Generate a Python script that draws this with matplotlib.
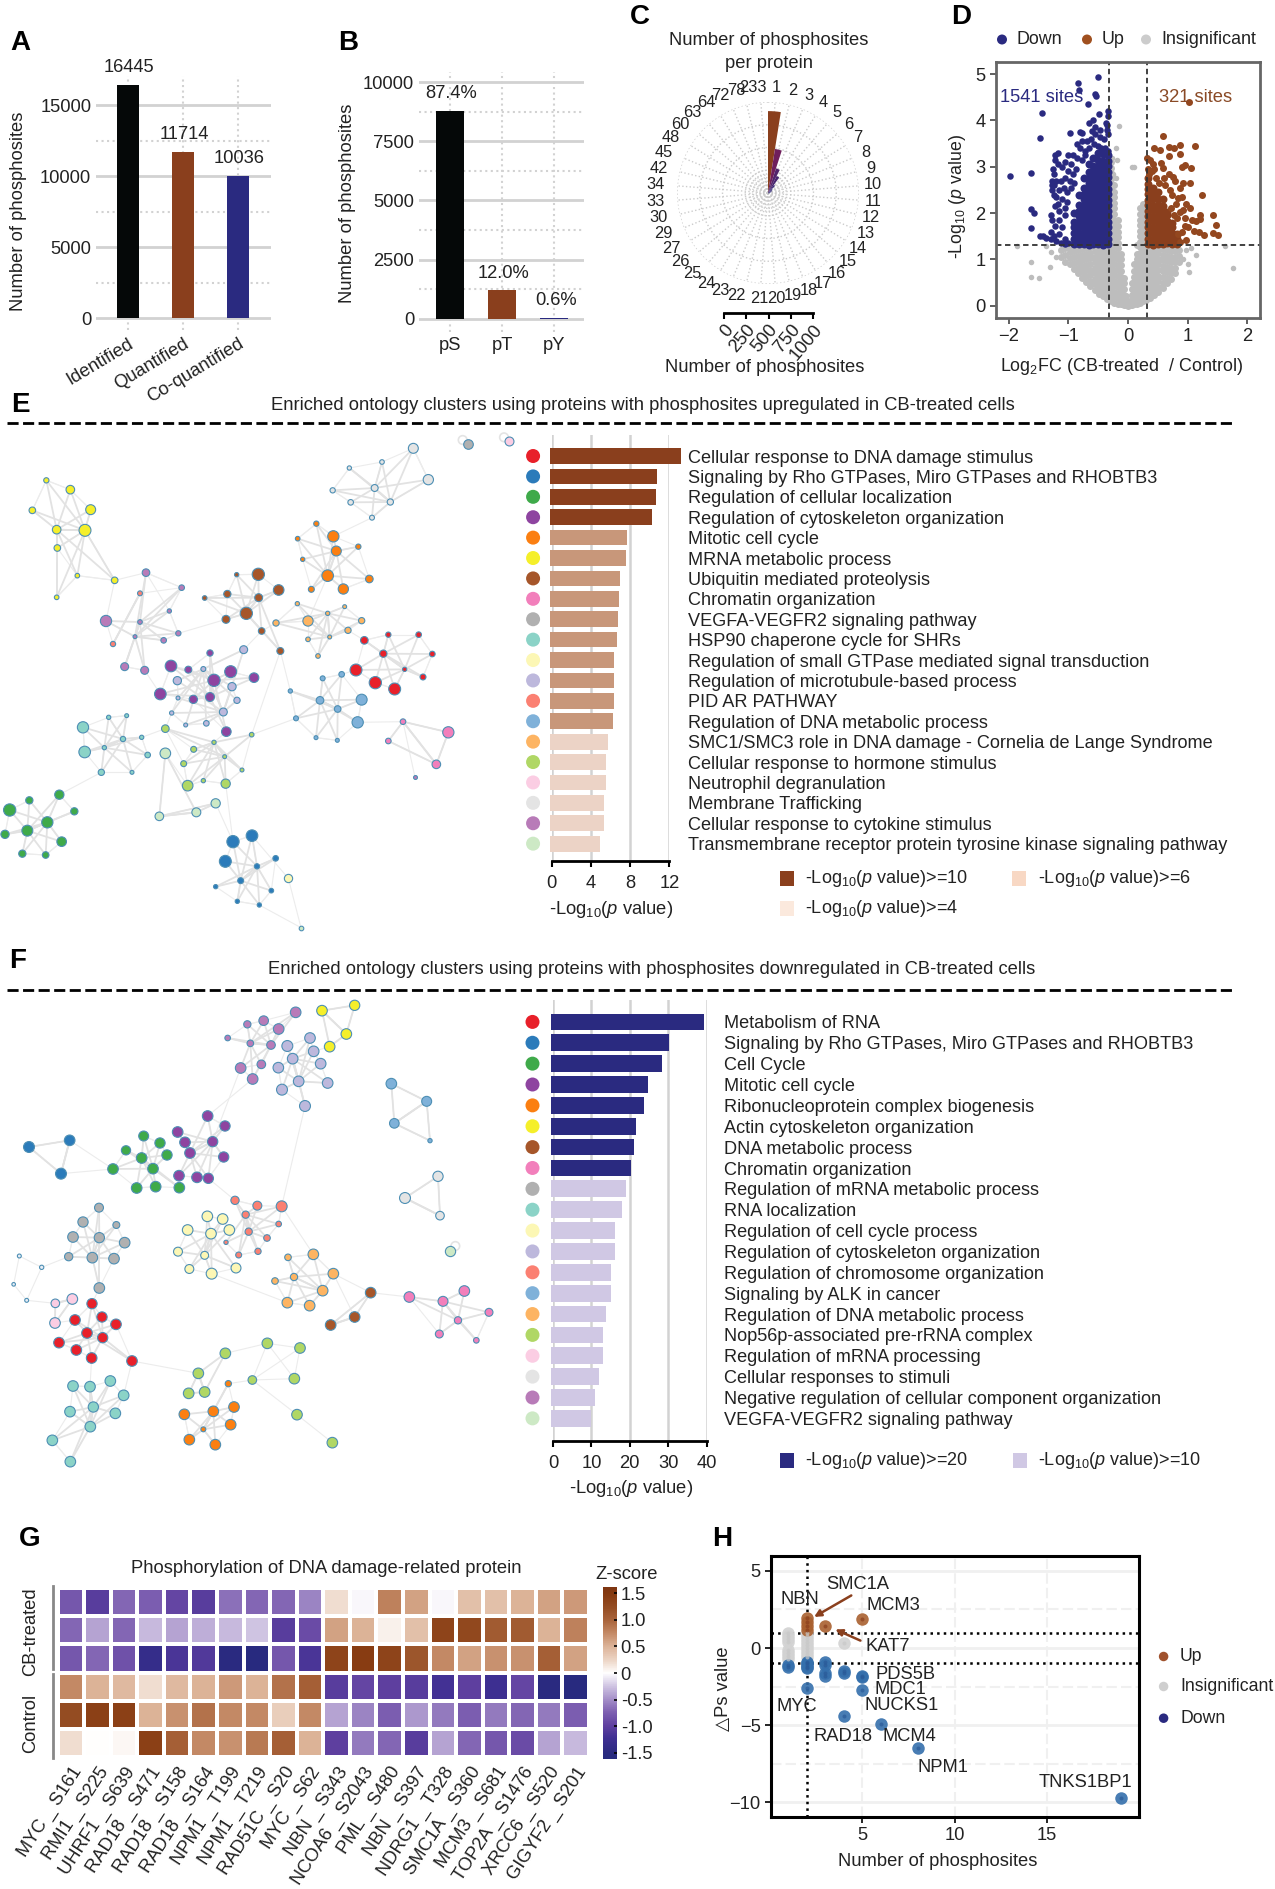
import numpy as np
import matplotlib
matplotlib.use("Agg")
import matplotlib.pyplot as plt
from matplotlib.collections import LineCollection
from matplotlib.colors import LinearSegmentedColormap
from matplotlib.transforms import ScaledTranslation

plt.rcParams['font.family'] = ['Liberation Sans', 'DejaVu Sans']
plt.rcParams['mathtext.fontset'] = 'custom'
plt.rcParams['mathtext.rm'] = 'Liberation Sans'
plt.rcParams['mathtext.it'] = 'Liberation Sans:italic'
plt.rcParams['mathtext.default'] = 'regular'
plt.rcParams['text.color'] = '#222222'
plt.rcParams['axes.labelcolor'] = '#222222'
plt.rcParams['xtick.labelcolor'] = '#222222'
plt.rcParams['ytick.labelcolor'] = '#222222'

W, H = 1275, 1889
BROWN = '#8a3f1d'
NAVY = '#2a2a80'
GRID = '#d2d2d2'
FS = 13.2

# ---- A / B
a_names = ['Identified', 'Quantified', 'Co-quantified']
a_values = [16445, 11714, 10036]
b_names = ['pS', 'pT', 'pY']
b_values = [8771, 1204, 60]
b_labels = ['87.4%', '12.0%', '0.6%']

# ---- C
c_labels = ['1', '2', '3', '4', '5', '6', '7', '8', '9', '10', '11', '12', '13', '14', '15', '16', '17', '18', '19', '20',
            '21', '22', '23', '24', '25', '26', '27', '29', '30', '33', '34', '42', '45', '48', '60', '63', '64', '72', '78', '233']
c_values = [900, 490, 285, 210, 110, 62, 50, 40, 30, 22, 16, 12, 10, 8, 6, 5, 4, 3, 3, 2,
            2, 2, 1, 1, 1, 1, 1, 1, 1, 1, 1, 1, 1, 1, 1, 1, 1, 1, 1, 1]

# ---- D, points
up_cols = {
    0.34: [1.33, 1.44, 1.56, 1.69, 1.8, 1.93, 2.04, 2.17, 2.28, 2.41, 2.52, 2.63, 2.75],
    0.42: [1.32, 1.45, 1.58, 1.68, 1.82, 1.92, 2.06, 2.16, 2.3, 2.42, 2.55],
    0.50: [1.34, 1.46, 1.57, 1.7, 1.81, 1.94, 2.05, 2.18, 2.31, 2.45],
    0.58: [1.33, 1.44, 1.55, 1.68, 1.8, 1.91, 2.03, 2.16, 2.3],
    0.66: [1.35, 1.47, 1.59, 1.71, 1.83, 1.95, 2.02],
    0.74: [1.34, 1.46, 1.57, 1.69, 1.78],
    0.82: [1.33, 1.45, 1.55],
}
up_x = [1.03, .58, .44, .54, .68, .78, .88, 1.13, .68, .87, .32, .37, .42, .55, .59, .40, .68, .9, .95, 1.05, .76, .79, 1.04, .93, .87,
        1.25, .7, .84, .98, 1.04, .93, .87, 1.2, 1.42, 1.2, 1.07, 1.14, 1.47, .96, 1.19, 1.43, 1.51, 1.28, .84, .36, .47, .52, .62, .34, .44, .6, .74, .8,
        .9, .72, .82, .95, 1.0, 1.1, .9, .98, .78, .88]
up_y = [4.39, 3.67, 3.40, 3.37, 3.43, 3.41, 3.48, 3.45, 3.23, 3.27, 3.2, 3.15, 3.07, 3.09, 2.97, 2.91, 2.84, 3.0, 3.04, 2.97, 2.78, 2.7, 2.66, 2.64, 2.55,
        2.4, 2.5, 2.33, 2.2, 2.1, 2.06, 2.02, 1.96, 1.95, 1.87, 1.84, 1.82, 1.75, 1.72, 1.6, 1.56, 1.52, 1.52, 1.55, 2.85, 2.75, 2.66, 2.6, 2.95, 2.95, 2.75, 2.4, 2.2,
        2.35, 2.1, 1.9, 1.9, 1.7, 1.62, 1.6, 1.42, 1.95, 1.38]
down_cols = {
    -0.34: [1.33, 1.45, 1.57, 1.69, 1.81, 1.93, 2.05, 2.17, 2.29, 2.41, 2.53, 2.65, 2.77, 2.89, 3.01, 3.13, 3.25],
    -0.42: [1.32, 1.44, 1.56, 1.68, 1.8, 1.92, 2.04, 2.16, 2.28, 2.4, 2.52, 2.64, 2.76, 2.88, 3.0, 3.12, 3.27],
    -0.50: [1.34, 1.46, 1.58, 1.7, 1.82, 1.94, 2.06, 2.18, 2.3, 2.42, 2.54, 2.66, 2.78, 2.9, 3.02, 3.14, 3.3],
    -0.58: [1.33, 1.45, 1.57, 1.69, 1.81, 1.93, 2.05, 2.17, 2.29, 2.41, 2.53, 2.65, 2.77, 2.89, 3.01, 3.2],
    -0.66: [1.32, 1.44, 1.56, 1.68, 1.8, 1.92, 2.04, 2.16, 2.28, 2.4, 2.52, 2.64, 2.76, 2.88, 3.05],
    -0.74: [1.34, 1.46, 1.58, 1.7, 1.82, 1.94, 2.06, 2.18, 2.3, 2.42, 2.54, 2.75],
    -0.82: [1.33, 1.45, 1.57, 1.69, 1.81, 1.93, 2.05, 2.17, 2.4],
    -0.90: [1.33, 1.45, 1.57, 1.69, 1.81, 2.0],
}
down_x = [-.5, -.84, -.82, -.55, -.53, -.67, -1.45, -.49, -.34, -.34, -.59, -.65, -.37, -.97, -1.48, -1.98, -1.62, -1.63, -1.57, -1.63,
          -1.0, -1.05, -1.12, -1.2, -1.25, -1.3, -1.37, -1.42, -1.48, -1.05, -1.15, -1.3, -1.1, -1.22, -1.28, -1.29, -1.15, -1.05, -1.15, -1.05,
          -1.22, -1.17, -1.1, -1.02, -1.2, -1.25, -1.27, -1.24, -1.2, -1.28, -1.27, -1.25, -1.26, -1.15, -1.08, -1.02, -.95, -1.12, -1.05, -.98,
          -.9, -1.0, -.93, -1.1, -1.17, -1.22, -1.22, -1.18, -1.05, -.95, -.87, -.85, -.78, -.72, -.92, -1.0, -.8, -.72, -.65, -.85, -.78, -.68,
          -.62, -.57, -.5, -.45, -.38, -.34, -.55, -.47, -.4, -.34, -.6, -.55, -.47, -.36, -.8, -.78, -.35]
down_y = [4.93, 4.8, 4.66, 4.57, 4.53, 4.35, 4.16, 4.15, 4.21, 4.09, 4.0, 3.95, 3.95, 3.74, 3.62, 2.8, 2.86, 2.09, 2.01, 1.68,
          1.35, 1.33, 1.35, 1.4, 1.5, 1.45, 1.47, 1.5, 1.5, 1.45, 1.55, 1.6, 1.7, 1.72, 1.85, 1.95, 1.85, 1.95, 2.05, 2.1,
          2.15, 2.2, 2.3, 2.25, 2.35, 2.4, 2.5, 2.6, 2.7, 2.6, 2.7, 2.85, 2.95, 2.5, 2.55, 2.45, 2.55, 2.7, 2.75, 2.7,
          2.65, 2.9, 2.85, 3.0, 3.05, 3.15, 3.25, 3.3, 3.1, 3.05, 2.95, 3.2, 3.15, 3.25, 3.25, 3.25, 3.4, 3.35, 3.4, 3.5, 3.55, 3.55,
          3.6, 3.5, 3.45, 3.4, 3.4, 3.35, 3.7, 3.65, 3.6, 3.7, 3.78, 3.85, 3.8, 3.8, 3.75, 3.72, 3.9]
grey_cols = {
    -1.12: [1.05, 1.2], -1.05: [.95, 1.1, 1.25], -0.98: [.9, 1.02, 1.15, 1.27],
    -0.91: [.8, .92, 1.05, 1.18, 1.28], -0.84: [.7, .82, .95, 1.08, 1.2, 1.29],
    -0.77: [.6, .72, .85, .98, 1.1, 1.22], -0.70: [.52, .64, .76, .88, 1.0, 1.12, 1.24],
    -0.63: [.42, .54, .66, .78, .9, 1.02, 1.14, 1.26], -0.56: [.34, .46, .58, .7, .82, .94, 1.06, 1.18, 1.28],
    -0.49: [.26, .38, .5, .62, .74, .86, .98, 1.1, 1.22], -0.42: [.2, .32, .44, .56, .68, .8, .92, 1.04, 1.16, 1.28],
    -0.35: [.15, .27, .39, .51, .63, .75, .87, .99, 1.11, 1.23, 1.3],
    -0.29: [.1, .22, .34, .46, .58, .7, .82, .94, 1.06, 1.18, 1.3, 1.42, 1.54, 1.66, 1.78, 1.9, 2.02, 2.14, 2.26, 2.38, 2.5, 2.62, 2.74, 2.86, 2.98, 3.1],
    -0.23: [.06, .18, .3, .42, .54, .66, .78, .9, 1.02, 1.14, 1.26, 1.38, 1.5, 1.62, 1.74, 1.86, 1.98, 2.1, 2.22, 2.34, 2.46, 2.6],
    -0.17: [.04, .16, .28, .4, .52, .64, .76, .88, 1.0, 1.12, 1.24, 1.36, 1.48, 1.6, 1.72, 1.86],
    -0.12: [.03, .15, .27, .39, .51, .63, .75, .87, 1.0, 1.12],
    -0.07: [.02, .12, .24, .36, .48, .6], -0.03: [.01, .1, .2], 0.0: [.0, .07], 0.03: [.01, .1],
    0.06: [.02, .12, .24, .36, .5], 0.10: [.03, .15, .27, .39, .51, .63, .75, .9],
    0.15: [.04, .16, .28, .4, .52, .64, .76, .88, 1.0, 1.12, 1.3],
    0.20: [.06, .18, .3, .42, .54, .66, .78, .9, 1.02, 1.14, 1.26, 1.38, 1.5, 1.62, 1.74, 1.86, 1.98, 2.1],
    0.26: [.1, .22, .34, .46, .58, .7, .82, .94, 1.06, 1.18, 1.3, 1.42, 1.54, 1.66, 1.78, 1.9, 2.02, 2.14, 2.2],
    0.31: [.12, .24, .36, .48, .6, .72, .84, .96, 1.08, 1.2, 1.3, 1.42, 1.54, 1.66, 1.78, 1.9, 2.02, 2.15],
    0.37: [.17, .29, .41, .53, .65, .77, .89, 1.01, 1.13, 1.25], 0.44: [.22, .34, .46, .58, .7, .82, .94, 1.06, 1.18, 1.28],
    0.51: [.29, .41, .53, .65, .77, .89, 1.01, 1.13, 1.25], 0.58: [.38, .5, .62, .74, .86, .98, 1.1, 1.22],
    0.65: [.48, .6, .72, .84, .96, 1.08, 1.2, 1.28], 0.72: [.58, .7, .82, .94, 1.06, 1.18, 1.28],
    0.79: [.7, .82, .94, 1.06, 1.18, 1.28], 0.86: [.95, 1.07, 1.2],
}
grey_x = [-1.62, -1.62, -1.31, -1.49, -1.38, -1.87, 1.62, 1.14, 1.0, 1.03, .93, 1.77, -.15, -.2, -.18, -.27, -.25, -.2, .1, .06, -1.3, -1.2, .98, 1.05]
grey_y = [.95, .61, .84, .59, 1.28, 1.28, 1.28, 1.1, .89, .72, 1.0, .82, 3.89, 3.4, 3.15, 3.2, 2.85, 2.75, 3.0, 3.0, 1.15, 1.05, 1.2, 1.25]

# ---- E / F network nodes: (x, y, diameter)
E_RED = [(1165, 644, 14), (1256, 644, 15), (1093, 661, 21), (1150, 701, 20), (1297, 702, 15), (1214, 748, 11), (1068, 750, 34), (1269, 771, 16), (1126, 788, 35), (1184, 807, 34)]
E_BLU = [(756, 1247, 33), (699, 1265, 35), (676, 1324, 34), (827, 1315, 15), (771, 1339, 14), (722, 1382, 16), (647, 1400, 11), (814, 1412, 12), (712, 1444, 11), (778, 1455, 11)]
E_GRN = [(178, 1124, 26), (88, 1141, 20), (29, 1170, 35), (223, 1174, 20), (142, 1207, 32), (82, 1232, 31), (15, 1243, 23), (185, 1265, 27), (67, 1301, 20), (137, 1305, 18)]
E_PUR = [(630, 699, 17), (513, 738, 33), (565, 749, 19), (692, 755, 34), (762, 773, 27), (642, 781, 35), (481, 822, 33), (580, 838, 23), (630, 831, 25), (679, 935, 27)]
E_ORA = [(949, 311, 14), (1000, 349, 32), (893, 356, 12), (1075, 380, 14), (1009, 393, 28), (908, 418, 11), (983, 467, 33), (1108, 477, 21), (1030, 507, 29), (934, 508, 16)]
E_YEL = [(139, 181, 14), (211, 209, 24), (272, 269, 28), (97, 271, 18), (170, 329, 24), (255, 331, 34), (172, 384, 18), (232, 467, 12), (344, 481, 18), (170, 532, 12)]
E_BRO = [(710, 464, 11), (775, 463, 35), (836, 510, 30), (682, 522, 20), (776, 533, 22), (614, 534, 12), (739, 580, 35), (678, 598, 22), (785, 633, 18), (841, 693, 19)]
E_PNK = [(1209, 905, 15), (1345, 937, 32), (1165, 963, 15), (1309, 1033, 24)]
E_GRY = [(1403, 72, 27)]
E_TEA = [(326, 892, 11), (380, 887, 10), (249, 922, 32), (369, 957, 14), (425, 952, 11), (254, 996, 33), (313, 983, 11), (443, 1005, 15), (304, 1057, 17), (396, 1057, 10)]
E_PYE = [(865, 1375, 23)]
E_LAV = [(731, 689, 22), (610, 747, 13), (532, 782, 23), (696, 800, 23), (534, 834, 10), (711, 841, 17), (670, 876, 22), (515, 879, 11), (557, 915, 10), (619, 910, 15)]
E_SAL = [(420, 520, 13), (339, 672, 14)]
E_LBL = [(968, 775, 13), (1025, 763, 15), (1085, 839, 31), (871, 813, 11), (960, 841, 21), (1013, 867, 18), (888, 895, 13), (1073, 907, 32), (948, 953, 10), (1012, 961, 10)]
E_LOR = [(892, 551, 11), (1034, 560, 10), (983, 580, 11), (828, 609, 17), (924, 603, 29), (1085, 602, 17), (1044, 631, 17), (924, 658, 12), (989, 651, 10), (954, 708, 12)]
E_YGR = [(496, 926, 21), (642, 967, 11), (755, 944, 12), (581, 988, 16), (674, 1010, 10), (551, 1031, 16), (726, 1050, 10), (610, 1082, 11), (563, 1097, 30), (677, 1091, 26)]
E_PPK = [(1526, 64, 25)]
E_PGY = [(1240, 85, 28), (1285, 179, 29), (1146, 126, 12), (1048, 144, 11), (998, 211, 14), (1124, 204, 19), (1171, 246, 17), (1052, 247, 15), (1116, 293, 13)]
E_MAU = [(438, 458, 21), (545, 503, 15), (508, 573, 11), (318, 603, 32), (420, 606, 12), (405, 650, 10), (535, 640, 14), (491, 661, 15), (374, 740, 22), (434, 751, 22)]
E_PGR = [(496, 1000, 30), (647, 1150, 26), (589, 1177, 25), (478, 1189, 24)]
E_LOOSE_MAU = [(1245, 1072, 10)]
E_LOOSE_PGR = [(903, 1523, 12)]

F_RED = [(276, 941, 29), (306, 981, 29), (225, 990, 30), (348, 1003, 30), (261, 1029, 30), (308, 1043, 29), (177, 1058, 30), (229, 1080, 30), (275, 1104, 30), (396, 1113, 30)]
F_BLU = [(209, 451, 30), (87, 471, 31), (183, 551, 31)]
F_GRN = [(431, 438, 28), (480, 459, 29), (378, 481, 26), (425, 504, 30), (501, 495, 29), (459, 536, 30), (339, 537, 30), (410, 594, 30), (467, 590, 30), (538, 593, 30)]
F_PUR = [(623, 378, 30), (675, 408, 29), (533, 426, 30), (555, 457, 30), (638, 455, 29), (570, 489, 30), (671, 501, 29), (537, 557, 30), (591, 562, 30), (625, 565, 29)]
F_ORA = [(685, 1181, 17), (702, 1251, 30), (553, 1273, 30), (640, 1264, 30), (692, 1304, 30), (610, 1318, 13), (568, 1349, 30), (646, 1364, 30)]
F_YEL = [(966, 62, 30), (1064, 46, 29), (1039, 132, 30), (989, 170, 30)]
F_BRO = [(1112, 908, 30), (1064, 981, 30), (992, 1005, 30)]
F_PNK = [(1393, 903, 30), (1228, 921, 30), (1329, 934, 28), (1467, 967, 22), (1374, 991, 20), (1318, 1032, 22), (1429, 1051, 15)]
F_GRY = [(297, 653, 25), (249, 696, 29), (349, 705, 19), (219, 741, 30), (298, 743, 29), (374, 758, 30), (206, 800, 23), (277, 803, 30), (342, 806, 30), (298, 894, 30)]
F_TEA = [(331, 1173, 30), (219, 1188, 30), (270, 1190, 30), (371, 1216, 30), (280, 1251, 29), (210, 1265, 30), (346, 1270, 30), (271, 1310, 30), (157, 1351, 30), (211, 1415, 30)]
F_PYE = [(622, 679, 30), (668, 687, 30), (563, 720, 30), (688, 720, 30), (633, 731, 30), (534, 785, 25), (614, 796, 22), (568, 837, 25), (708, 834, 28), (635, 851, 31)]
F_LAV = [(930, 144, 30), (862, 168, 31), (941, 184, 30), (878, 206, 30), (962, 221, 30), (835, 233, 30), (896, 274, 30), (983, 279, 30), (846, 299, 31), (915, 348, 31)]
F_SAL = [(705, 631, 23), (772, 647, 25), (845, 649, 31), (737, 674, 20), (836, 702, 15), (746, 725, 20), (801, 744, 18), (678, 757, 11), (774, 784, 17), (716, 795, 16)]
F_LBL = [(1174, 281, 30), (1280, 334, 28), (1183, 400, 27), (1290, 452, 11)]
F_LOR = [(940, 793, 30), (864, 802, 18), (1000, 851, 30), (882, 861, 20), (825, 873, 18), (968, 902, 30), (862, 938, 30), (929, 947, 30)]
F_YGR = [(676, 1090, 30), (595, 1150, 30), (614, 1206, 30), (566, 1210, 30)]
F_YGR2 = [(802, 1060, 30), (900, 1074, 30), (883, 1166, 30), (757, 1170, 24), (891, 1274, 30), (997, 1358, 30)]
F_PPK = [(217, 927, 30), (166, 940, 24), (165, 999, 30)]
F_PGY = [(1314, 559, 29), (1215, 624, 31), (1320, 677, 24)]
F_MAU = [(887, 67, 30), (791, 92, 27), (742, 103, 20), (836, 117, 30), (683, 144, 15), (751, 160, 18), (813, 165, 24), (784, 223, 24), (722, 234, 30), (758, 267, 30)]
F_PGR = [(1349, 783, 29)]
F_TINY = [(58, 798, 10), (125, 832, 11), (41, 883, 9), (80, 931, 10)]

CLUSTER_COLORS = ['#e8202a', '#2b7bba', '#3faa4a', '#8e44a0', '#fb7f11', '#f5ef2a', '#a6562a', '#f27fbb', '#b0b0b0', '#8bd3c7',
                  '#fcf7b5', '#bdb8dc', '#fb8072', '#7fb1d9', '#fdb462', '#b0d765', '#fbcde3', '#e4e4e4', '#b87bb8', '#cde9c5']
e_groups = [E_RED, E_BLU, E_GRN, E_PUR, E_ORA, E_YEL, E_BRO, E_PNK, E_GRY, E_TEA, E_PYE, E_LAV, E_SAL, E_LBL, E_LOR, E_YGR, E_PPK, E_PGY, E_MAU, E_PGR]
f_groups = [F_RED, F_BLU, F_GRN, F_PUR, F_ORA, F_YEL, F_BRO, F_PNK, F_GRY, F_TEA, F_PYE, F_LAV, F_SAL, F_LBL, F_LOR, F_YGR, F_PPK, F_PGY, F_MAU, F_PGR]
e_extras = [(E_LOOSE_MAU, '#b87bb8'), (E_LOOSE_PGR, '#cde9c5')]
f_extras = [(F_YGR2, '#b0d765'), (F_TINY, '#e8eef6')]
e_bridges = [(E_YEL[5], E_YEL[8]), (E_YEL[8], E_MAU[0]), (E_YEL[8], E_MAU[3]), (E_ORA[1], E_PGY[8]), (E_ORA[6], E_LOR[4]), (E_BRO[6], E_BRO[9]),
             (E_BRO[7], E_MAU[6]), (E_BRO[8], E_LOR[3]), (E_LOR[3], E_LOR[4]), (E_RED[6], E_LBL[1]), (E_RED[2], E_LOR[6]), (E_PUR[9], E_YGR[1]),
             (E_YGR[0], E_TEA[4]), (E_TEA[8], E_GRN[0]), (E_YGR[2], E_LBL[6]), (E_YGR[0], E_LAV[7]), (E_PGR[0], E_PGR[3]), (E_PGR[1], E_BLU[1]),
             (E_YGR[9], E_BLU[1]), (E_LBL[7], E_PNK[0]), (E_PYE[0], E_BLU[0]), (E_PYE[0], E_LOOSE_PGR[0]), (E_BLU[9], E_LOOSE_PGR[0]), (E_BRO[9], E_LBL[3]),
             (E_BRO[9], E_YGR[2]), (E_MAU[9], E_PUR[6]), (E_LAV[0], E_BRO[8]), (E_LOOSE_MAU[0], E_PNK[0]), (E_PGY[0], E_PGY[1]), (E_PGR[0], E_YGR[8]),
             (E_PNK[0], E_PNK[3]), (E_PNK[1], E_PNK[3]), (E_PNK[0], E_PNK[1]), (E_SAL[0], E_MAU[1]), (E_SAL[1], E_MAU[3]), (E_YEL[7], E_YEL[9]), (E_YEL[7], E_YEL[8])]
f_bridges = [(F_MAU[9], F_PUR[0]), (F_LAV[9], F_SAL[2]), (F_PUR[9], F_SAL[0]), (F_GRN[6], F_BLU[2]), (F_BLU[0], F_GRN[6]), (F_SAL[2], F_LOR[0]),
             (F_LOR[2], F_BRO[0]), (F_BRO[0], F_PNK[1]), (F_GRY[9], F_RED[0]), (F_GRY[6], F_TINY[1]), (F_TINY[3], F_PPK[1]), (F_TINY[0], F_TINY[1]),
             (F_TINY[0], F_TINY[2]), (F_TINY[2], F_TINY[3]), (F_TINY[1], F_TINY[3]), (F_RED[9], F_YGR[1]), (F_RED[8], F_TEA[2]), (F_RED[9], F_TEA[3]),
             (F_YGR2[3], F_ORA[0]), (F_YGR2[3], F_YGR2[4]), (F_YGR2[4], F_YGR2[5]), (F_YGR2[0], F_YGR2[1]), (F_YGR2[0], F_YGR2[3]), (F_YGR2[1], F_YGR2[2]), (F_YGR2[2], F_YGR2[3]),
             (F_YGR2[0], F_YGR[0]), (F_YGR2[0], F_YGR2[2]), (F_YGR2[1], F_YGR2[3]),
             (F_LBL[0], F_LBL[1]), (F_LBL[1], F_LBL[2]), (F_LBL[1], F_LBL[3]), (F_LBL[0], F_LBL[2]),
             (F_LBL[2], F_LBL[3]), (F_PGY[0], F_PGY[1]), (F_PGY[1], F_PGY[2]), (F_PGY[0], F_PGY[2]), (F_BLU[0], F_BLU[1]), (F_BLU[1], F_BLU[2]), (F_BLU[0], F_BLU[2]),
             (F_YEL[3], F_YEL[2]), (F_YEL[0], F_YEL[1]), (F_YEL[3], F_LAV[2]), (F_PPK[2], F_RED[2]), (F_PYE[9], F_LOR[6]), (F_PUR[4], F_MAU[8]), (F_BRO[1], F_LOR[2])]
e_loops = [(1388, 60, 26), (1512, 52, 26)]
f_loops = [(1366, 768, 26)]

e_terms = ['Cellular response to DNA damage stimulus', 'Signaling by Rho GTPases, Miro GTPases and RHOBTB3', 'Regulation of cellular localization',
           'Regulation of cytoskeleton organization', 'Mitotic cell cycle', 'MRNA metabolic process', 'Ubiquitin mediated proteolysis', 'Chromatin organization',
           'VEGFA-VEGFR2 signaling pathway', 'HSP90 chaperone cycle for SHRs', 'Regulation of small GTPase mediated signal transduction',
           'Regulation of microtubule-based process', 'PID AR PATHWAY', 'Regulation of DNA metabolic process', 'SMC1/SMC3 role in DNA damage - Cornelia de Lange Syndrome',
           'Cellular response to hormone stimulus', 'Neutrophil degranulation', 'Membrane Trafficking', 'Cellular response to cytokine stimulus',
           'Transmembrane receptor protein tyrosine kinase signaling pathway']
e_values = [13.15, 10.75, 10.65, 10.25, 7.65, 7.55, 6.95, 6.85, 6.75, 6.65, 6.4, 6.4, 6.4, 6.3, 5.7, 5.5, 5.5, 5.3, 5.3, 4.95]
f_terms = ['Metabolism of RNA', 'Signaling by Rho GTPases, Miro GTPases and RHOBTB3', 'Cell Cycle', 'Mitotic cell cycle', 'Ribonucleoprotein complex biogenesis',
           'Actin cytoskeleton organization', 'DNA metabolic process', 'Chromatin organization', 'Regulation of mRNA metabolic process', 'RNA localization',
           'Regulation of cell cycle process', 'Regulation of cytoskeleton organization', 'Regulation of chromosome organization', 'Signaling by ALK in cancer',
           'Regulation of DNA metabolic process', 'Nop56p-associated pre-rRNA complex', 'Regulation of mRNA processing', 'Cellular responses to stimuli',
           'Negative regulation of cellular component organization', 'VEGFA-VEGFR2 signaling pathway']
f_values = [39.2, 30.3, 28.5, 24.8, 23.6, 21.6, 21.1, 20.2, 18.9, 17.9, 16.1, 16.1, 15.1, 15.1, 13.9, 13.0, 13.0, 12.1, 10.9, 10.0]

# ---- G
g_sites = ['MYC _ S161', 'RMI1 _ S225', 'UHRF1 _ S639', 'RAD18 _ S471', 'RAD18 _ S158', 'RAD18 _ S164', 'NPM1 _ T199', 'NPM1 _ T219', 'RAD51C _ S20', 'MYC _ S62',
           'NBN _ S343', 'NCOA6 _ S2043', 'PML _ S480', 'NBN _ S397', 'NDRG1 _ T328', 'SMC1A _ S360', 'MCM3 _ S681', 'TOP2A _ S1476', 'XRCC6 _ S520', 'GIGYF2 _ S201']
g_cb1 = [-0.8, -1.05, -0.7, -0.75, -0.95, -1.05, -0.65, -0.7, -0.7, -0.55, 0.2, -0.03, 0.8, 0.6, -0.03, 0.4, 0.4, 0.5, 0.6, 0.65]
g_cb2 = [-0.7, -0.4, -0.7, -0.3, -0.4, -0.35, -0.3, -0.25, -1.05, -0.9, 0.6, 0.5, 0.08, 0.4, 1.35, 1.3, 1.1, 1.1, 0.5, 0.8]
g_cb3 = [-0.8, -0.7, -0.85, -1.35, -1.15, -1.1, -1.5, -1.55, -0.8, -1.15, 1.35, 1.45, 1.35, 1.15, 0.75, 0.6, 0.7, 0.7, 1.05, 0.6]
g_ctl1 = [0.75, 0.5, 0.45, 0.2, 0.45, 0.5, 0.65, 0.5, 0.9, 1.05, -1.05, -0.95, -1.0, -1.05, -1.2, -1.0, -1.25, -0.95, -1.5, -1.55]
g_ctl2 = [1.25, 1.4, 1.4, 0.5, 0.7, 0.9, 0.75, 0.75, 0.3, 0.75, -0.4, -0.55, -0.75, -0.45, -0.6, -0.75, -0.6, -0.7, -0.6, -0.75]
g_ctl3 = [0.2, 0.01, 0.05, 1.4, 1.05, 0.75, 0.7, 0.85, 1.05, 0.5, -1.0, -0.6, -0.7, -1.05, -0.4, -0.7, -0.8, -0.9, -0.4, -0.3]

# ---- H
h_up_x = [2, 2, 2, 2, 3, 5]
h_up_y = [1.95, 1.7, 1.45, 1.2, 1.4, 1.9]
h_ins_x = [1, 1, 1, 1, 1, 1, 1, 1, 2, 2, 2, 2, 2, 2, 2, 2, 2, 4]
h_ins_y = [1.0, 0.8, 0.6, 0.4, -0.1, -0.3, -0.5, -0.7, 1.0, 0.8, 0.6, 0.4, 0.2, 0.0, -0.2, -0.4, -0.6, 0.3]
h_down_x = [1, 1, 2, 2, 2, 2, 2, 2, 3, 3, 3, 3, 4, 4, 4, 5, 5, 5, 6, 8, 19]
h_down_y = [-1.1, -1.2, -0.9, -1.0, -1.1, -1.2, -1.3, -2.6, -0.9, -1.1, -1.6, -1.8, -1.5, -1.6, -4.4, -1.8, -1.9, -2.7, -4.9, -6.5, -9.7]
h_names = ['NBN', 'SMC1A', 'MCM3', 'KAT7', 'PDS5B', 'MDC1', 'NUCKS1', 'MYC', 'RAD18', 'MCM4', 'NPM1', 'TNKS1BP1']
h_name_x = [1.62, 4.76, 6.71, 6.41, 7.36, 7.09, 7.13, 1.49, 3.95, 7.56, 9.38, 17.07]
h_name_y = [3.18, 4.09, 2.74, 0.09, -1.69, -2.66, -3.7, -3.8, -5.75, -5.75, -7.74, -8.71]


fig = plt.figure(figsize=(W / 100, H / 100), dpi=100, facecolor='white')


def axes_px(x0, y0, x1, y1, **kw):
    return fig.add_axes([x0 / W, 1 - y1 / H, (x1 - x0) / W, (y1 - y0) / H], **kw)


def d2s(d):
    return (d * 0.72) ** 2


def shift_labels(labels, dx):
    for t in labels:
        t.set_transform(t.get_transform() + ScaledTranslation(dx / 100, 0, fig.dpi_scale_trans))


def grid_bar_axes(ax):
    for s in ax.spines.values():
        s.set_visible(False)
    ax.tick_params(length=0, labelsize=FS)
    ax.set_axisbelow(True)


# overlay in pixel coordinates, for panel letters, titles and legends
ov = axes_px(0, 0, W, H)
ov.set_xlim(0, W)
ov.set_ylim(H - 1.5, -1.5)
ov.axis('off')
ov.set_zorder(20)

for s, x, y in [('A', 20, 42), ('B', 348, 42), ('C', 640, 15), ('D', 961, 15), ('E', 20, 404), ('F', 18, 960), ('G', 30, 1538), ('H', 722, 1538)]:
    ov.text(x, y, s, fontsize=20, fontweight='bold', color='black', ha='center', va='center')

# A
ax = axes_px(96, 76, 271, 330)
ax.bar([1, 2, 3], a_values, width=0.41, color=['#050808', BROWN, NAVY])
ax.set_xlim(0.42, 3.6)
ax.set_ylim(-845, 17063)
ax.set_xticks([1, 2, 3], a_names, rotation=31, ha='right', rotation_mode='anchor', fontsize=FS)
shift_labels(ax.get_xticklabels(), 16)
ax.set_yticks([0, 5000, 10000, 15000])
ax.set_yticks([2500, 7500, 12500], minor=True)
ax.grid(axis='y', which='major', color=GRID, lw=2)
ax.grid(axis='y', which='minor', color=GRID, lw=1.5, ls=':')
ax.grid(axis='x', color=GRID, lw=1.5, ls=':')
grid_bar_axes(ax)
ax.tick_params(which='minor', length=0)
for i, v in enumerate(a_values):
    ax.annotate(str(v), (i + 1, v), xytext=(1, 12.5), textcoords='offset points', ha='center', va='center', fontsize=FS)
ov.text(19, 210, 'Number of phosphosites', rotation=90, fontsize=FS, ha='center', va='center')

# B
ax = axes_px(419, 72, 584.5, 332)
ax.bar([1, 2, 3], b_values, width=0.535, color=['#050808', BROWN, NAVY])
ax.set_xlim(0.4, 3.58)
ax.set_ylim(-550, 10423)
ax.set_xticks([1, 2, 3], b_names, fontsize=FS)
ax.set_yticks([0, 2500, 5000, 7500, 10000])
ax.set_yticks([1250, 3750, 6250, 8750], minor=True)
ax.grid(axis='y', which='major', color=GRID, lw=2)
ax.grid(axis='y', which='minor', color=GRID, lw=1.5, ls=':')
ax.grid(axis='x', color=GRID, lw=1.5, ls=':')
grid_bar_axes(ax)
ax.tick_params(which='minor', length=0)
for i, (v, s) in enumerate(zip(b_values, b_labels)):
    ax.annotate(s, (i + 1, v), xytext=(1, 12.5), textcoords='offset points', ha='center', va='center', fontsize=FS)
ov.text(348, 202, 'Number of phosphosites', rotation=90, fontsize=FS, ha='center', va='center')

# C
ax = axes_px(677, 102, 859, 284, projection='polar')
ax.set_theta_zero_location('N')
ax.set_theta_direction(-1)
step = 2 * np.pi / len(c_values)
c_theta = (np.arange(len(c_values)) + 0.5) * step
c_cmap = LinearSegmentedColormap.from_list('c', [(0, NAVY), (0.55, '#701f5c'), (1, BROWN)])
ax.bar(c_theta, c_values, width=step, color=c_cmap(np.array(c_values) / 900), zorder=3)
ax.set_ylim(0, 1000)
ax.set_xticks(c_theta)
ax.set_xticklabels([])
ax.set_yticks([40, 80, 120, 160, 200, 250, 500, 750, 1000])
ax.set_yticklabels([])
ax.grid(color='#cccccc', lw=1, ls=':')
ax.spines['polar'].set_visible(False)
ax.tick_params(length=0)
for th, s in zip(c_theta, c_labels):
    # labels on the left half sit a little further out than their angle
    dx = -5 if th > np.pi * 1.05 else 0
    ax.annotate(s, (th, 1160), xytext=(dx, 0), textcoords='offset points', fontsize=11.8, ha='center', va='center', annotation_clip=False)
ov.text(769, 39, 'Number of phosphosites', fontsize=FS, ha='center', va='center')
ov.text(769, 62, 'per protein', fontsize=FS, ha='center', va='center')

ax = axes_px(724, 300, 813, 313)
ax.set_xlim(0, 1000)
ax.patch.set_visible(False)
ax.set_yticks([])
for k in ['left', 'right', 'top']:
    ax.spines[k].set_visible(False)
ax.spines['bottom'].set_linewidth(2)
ax.set_xticks([0, 250, 500, 750, 1000], ['0', '250', '500', '750', '1000'], rotation=50, ha='right', rotation_mode='anchor', fontsize=FS)
shift_labels(ax.get_xticklabels(), 9)
ax.tick_params(axis='x', length=4, width=1.5, pad=2)
ov.text(765, 366, 'Number of phosphosites', fontsize=FS, ha='center', va='center')

# D
ax = axes_px(996, 61.7, 1260, 318)
for x, ys in grey_cols.items():
    ax.scatter([x] * len(ys), ys, s=d2s(7), color='#bdbdbd', linewidths=0)
ax.scatter(grey_x, grey_y, s=d2s(5.5), color='#bdbdbd', linewidths=0)
for x, ys in down_cols.items():
    ax.scatter([x] * len(ys), ys, s=d2s(8), color=NAVY, linewidths=0)
ax.scatter(down_x, down_y, s=d2s(6.5), color=NAVY, linewidths=0)
for x, ys in up_cols.items():
    ax.scatter([x] * len(ys), ys, s=d2s(8), color=BROWN, linewidths=0)
ax.scatter(up_x, up_y, s=d2s(7), color='#93471f', linewidths=0)
ax.axvline(-0.32, color='#333333', lw=1.3, ls=(0, (3, 2)))
ax.axvline(0.32, color='#333333', lw=1.3, ls=(0, (3, 2)))
ax.axhline(1.3, color='#333333', lw=1.3, ls=(0, (3, 2)))
ax.set_xlim(-2.215, 2.215)
ax.set_ylim(-0.266, 5.27)
ax.set_xticks([-2, -1, 0, 1, 2])
ax.set_yticks([0, 1, 2, 3, 4, 5])
ax.tick_params(labelsize=FS, length=4, width=1.2, color='#444444')
for s in ax.spines.values():
    s.set_color('#666666')
    s.set_linewidth(2)
ax.text(-1.45, 4.5, '1541 sites', color=NAVY, fontsize=FS, ha='center', va='center')
ax.text(1.14, 4.5, '321 sites', color='#8a4a26', fontsize=FS, ha='center', va='center')
ov.text(958, 195, '-Log$_{10}$ ($\\mathit{p}$ value)', rotation=90, fontsize=12.8, ha='center', va='center')
ov.text(1122, 365, 'Log$_2$FC (CB-treated  / Control)', fontsize=12.9, ha='center', va='center')
ov.scatter([1002, 1087, 1146], [38, 38, 38], s=d2s(10), color=[NAVY, '#a0501f', '#cccccc'], linewidths=0)
for x, s in [(1017, 'Down'), (1102, 'Up'), (1161, 'Insignificant')]:
    ov.text(x, 38, s, fontsize=12.9, va='center')


def draw_network(box, ylim, groups, extras, bridges, loops):
    net = axes_px(*box)
    net.set_xlim(0, 1560)
    net.set_ylim(ylim, 0)
    net.axis('off')
    thin, thick = [], []
    for g in groups:
        pts = np.array([n[:2] for n in g], dtype=float)
        if len(pts) < 2:
            continue
        # hubs: the members closest to the middle of the cluster
        order = np.argsort(np.hypot(*(pts - pts.mean(axis=0)).T))
        for i, p in enumerate(pts):
            for h in order[:2]:
                if h != i:
                    thick.append([p, pts[h]])
            near = np.argsort(np.hypot(*(pts - p).T))[1:3]
            for j in near:
                thin.append([p, pts[j]])
    thin += [[b[0][:2], b[1][:2]] for b in bridges]
    net.add_collection(LineCollection(thin, colors='#ececec', linewidths=0.8, zorder=1))
    net.add_collection(LineCollection(thick, colors='#e2e2e2', linewidths=1.3, zorder=1))
    net.scatter([l[0] for l in loops], [l[1] for l in loops], s=[d2s(l[2] / 3) for l in loops], facecolors='none', edgecolors='#e4e4e4', linewidths=1.2, zorder=1)
    pairs = list(zip(groups, CLUSTER_COLORS)) + extras
    for g, c in pairs:
        net.scatter([n[0] for n in g], [n[1] for n in g], s=[d2s(n[2] / 3 + 0.6) for n in g], color=c, edgecolors='#4d8fb4', linewidths=0.8, zorder=3, clip_on=False)
    return net


def draw_terms(box, xlim, ylim, values, terms, colors, dot_x, lab_x, ticks, bar_h, bar_left):
    ax = axes_px(*box)
    ax.barh(range(len(values)), np.array(values) - bar_left, left=bar_left, height=bar_h, color=colors, clip_on=False, zorder=3)
    ax.scatter([dot_x] * len(values), range(len(values)), s=d2s(14), color=CLUSTER_COLORS, linewidths=0, clip_on=False)
    for i, s in enumerate(terms):
        ax.text(lab_x, i + 0.1, s, fontsize=13.1, va='center', clip_on=False)
    ax.set_xlim(*xlim)
    ax.set_ylim(*ylim)
    ax.set_xticks(ticks)
    ax.set_yticks([])
    ax.grid(axis='x', color=GRID, lw=1.8)
    ax.set_axisbelow(True)
    for k in ['left', 'right', 'top']:
        ax.spines[k].set_visible(False)
    ax.spines['bottom'].set_linewidth(2)
    ax.tick_params(axis='x', length=4, width=1.5, labelsize=FS, pad=6)
    return ax


LOG_P = '-Log$_{10}$($\\mathit{p}$ value)'

# E
ov.text(643, 404, 'Enriched ontology clusters using proteins with phosphosites upregulated in CB-treated cells', fontsize=FS, ha='center', va='center')
ov.plot([7, 1233], [421.5, 421.5], color='black', lw=2, ls=(0, (4, 1.6)))
draw_network((0, 420, 520, 960), 1620, e_groups, e_extras, e_bridges, e_loops)
e_colors = [BROWN] * 4 + ['#c8977a'] * 10 + ['#ecd3c6'] * 6
draw_terms((551.7, 435, 669.3, 861), (0, 12), (19.85, -1.03), e_values, e_terms, e_colors, -1.9, 13.9, [0, 4, 8, 12], 0.77, -0.2)
ov.text(611, 908, LOG_P, fontsize=FS, ha='center', va='center')
ov.scatter([787, 1019, 787], [877, 877, 907], marker='s', s=d2s(14.5), color=[BROWN, '#f8d8c4', '#fbe9dd'], linewidths=0)
for x, y, t in [(805, 877, '>=10'), (1038, 877, '>=6'), (805, 907, '>=4')]:
    ov.text(x, y, LOG_P + t, fontsize=13, va='center')

# F
ov.text(652, 968, 'Enriched ontology clusters using proteins with phosphosites downregulated in CB-treated cells', fontsize=FS, ha='center', va='center')
ov.plot([7, 1233], [988.5, 988.5], color='black', lw=2, ls=(0, (4, 1.6)))
draw_network((0, 990, 520, 1480), 1470, f_groups, f_extras, f_bridges, f_loops)
f_colors = [NAVY] * 8 + ['#d0c8e4'] * 12
draw_terms((553, 1000, 706.6, 1440.7), (0, 40), (20.07, -1.05), f_values, f_terms, f_colors, -5.34, 44.5, [0, 10, 20, 30, 40], 0.8, -0.4)
ov.text(631.6, 1487, LOG_P, fontsize=FS, ha='center', va='center')
ov.scatter([787, 1020], [1459, 1459], marker='s', s=d2s(14.5), color=[NAVY, '#d0c8e4'], linewidths=0)
for x, t in [(805, '>=20'), (1038, '>=10')]:
    ov.text(x, 1459, LOG_P + t, fontsize=13, va='center')

# G
g_cmap = LinearSegmentedColormap.from_list('g', [(0, '#262a7e'), (0.037, '#2a2a80'), (0.12, '#3f2f92'), (0.191, '#5f40a0'), (0.269, '#7c5eb0'), (0.346, '#a48ec8'), (0.423, '#cfc4e2'), (0.5, '#ffffff'),
                                                 (0.577, '#ecd4c4'), (0.654, '#dcb398'), (0.731, '#c48a66'), (0.809, '#a9643b'), (0.886, '#944c22'), (0.963, '#85390f'), (1, '#7e3512')])
g_matrix = np.array([g_cb1, g_cb2, g_cb3, g_ctl1, g_ctl2, g_ctl3])
ax = axes_px(57.6, 1588, 589, 1757)
mesh = ax.pcolormesh(g_matrix, cmap=g_cmap, vmin=-1.62, vmax=1.62, edgecolors='white', linewidth=2.6)
ax.invert_yaxis()
ax.set_yticks([])
ax.set_xticks(np.arange(20) + 0.5, g_sites, rotation=57, ha='right', rotation_mode='anchor', fontsize=FS)
shift_labels(ax.get_xticklabels(), 8)
ax.tick_params(length=0, pad=5)
for s in ax.spines.values():
    s.set_visible(False)
ov.text(326, 1567, 'Phosphorylation of DNA damage-related protein', fontsize=FS, ha='center', va='center')
ov.text(31, 1630, 'CB-treated', rotation=90, fontsize=FS, ha='center', va='center')
ov.text(31, 1722, 'Control', rotation=90, fontsize=FS, ha='center', va='center')
ov.plot([52.5, 52.5], [1584, 1667], color='#888888', lw=2)
ov.plot([52.5, 52.5], [1672, 1756], color='#888888', lw=2)
cax = axes_px(602.5, 1587, 616.5, 1759)
cb = fig.colorbar(mesh, cax=cax, ticks=[-1.5, -1, -0.5, 0, 0.5, 1, 1.5])
cb.ax.set_yticklabels(['-1.5', '-1.0', '-0.5', '0', '0.5', '1.0', '1.5'])
cb.outline.set_visible(False)
cb.ax.tick_params(length=2.5, width=1.2, direction='in', labelsize=FS, pad=3)
ov.text(627, 1573, 'Z-score', fontsize=FS, ha='center', va='center')

# H
ax = axes_px(771, 1556, 1139, 1817)
ax.set_xlim(0.08, 19.97)
ax.set_ylim(-10.96, 5.97)
ax.set_xticks([5, 10, 15])
ax.set_yticks([-10, -5, 0, 5])
ax.set_yticks([-7.5, -2.5, 2.5], minor=True)
ax.grid(axis='y', which='major', color='#f0f0f0', lw=2)
ax.grid(axis='y', which='minor', color='#f0f0f0', lw=1.5, ls=(0, (5, 2)))
ax.grid(axis='x', color='#f0f0f0', lw=1.5, ls=(0, (5, 2)))
ax.set_axisbelow(True)
ax.tick_params(which='minor', length=0)
ax.tick_params(which='major', labelsize=FS, length=4, width=1.2)
ax.axvline(2, color='black', lw=1.8, ls=':', zorder=2)
ax.axhline(1, color='black', lw=1.8, ls=':', zorder=2)
ax.axhline(-1, color='black', lw=1.8, ls=':', zorder=2)
for xs, ys, col, dark in [(h_ins_x, h_ins_y, '#d2d2d2', '#c8c8c8'), (h_up_x, h_up_y, '#a9602f', '#8a3f1d'), (h_down_x, h_down_y, '#346fac', '#2a5a98')]:
    ax.scatter(xs, ys, s=d2s(12.5), color=col, alpha=0.9, linewidths=0, zorder=3)
    ax.scatter(xs, ys, s=d2s(4), color=dark, alpha=0.7, linewidths=0, zorder=4)
for s, x, y in zip(h_names, h_name_x, h_name_y):
    ax.text(x, y, s, fontsize=FS, ha='center', va='center', zorder=5)
ax.annotate('', xy=(2.28, 1.93), xytext=(4.55, 3.5), arrowprops=dict(arrowstyle='-|>', color=BROWN, lw=1.8), zorder=5)
ax.annotate('', xy=(3.42, 1.28), xytext=(5.05, 0.41), arrowprops=dict(arrowstyle='-|>', color=BROWN, lw=1.8), zorder=5)
for s in ax.spines.values():
    s.set_linewidth(2.2)
ov.text(724, 1687, '△Ps value', rotation=90, fontsize=FS, ha='center', va='center')
ov.text(937.6, 1860, 'Number of phosphosites', fontsize=FS, ha='center', va='center')
ov.scatter([1163.6] * 3, [1655, 1685, 1716.7], s=d2s(9.5), color=['#a0522d', '#cfcfcf', NAVY], linewidths=0)
for y, s in [(1655, 'Up'), (1685, 'Insignificant'), (1716.7, 'Down')]:
    ov.text(1180, y, s, fontsize=12.7, va='center')

fig.savefig('out.png', dpi=100)
